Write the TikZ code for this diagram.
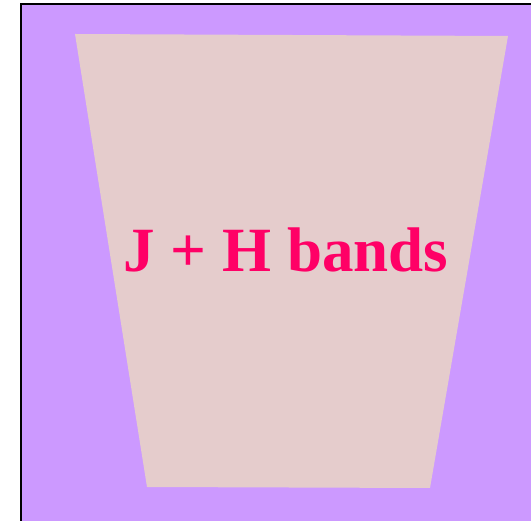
\documentclass[tikz,border=0pt]{standalone}
\usepackage{fontspec}
\setmainfont{Liberation Serif}
\definecolor{bgpurple}{HTML}{CC99FF}
\definecolor{trapfill}{HTML}{E5CCCC}
\definecolor{labelred}{HTML}{FF0066}
\begin{document}
\begin{tikzpicture}[x=1pt,y=-1pt,
  frame/.style={draw=black,line width=2pt},
  band/.style={fill=trapfill,draw=none},
  bandlabel/.style={text=labelred,font=\bfseries\fontsize{63}{63}\selectfont,inner sep=0pt}]
\useasboundingbox (0,0) rectangle (531,521);
\fill[white] (0,0) rectangle (531,521);
\fill[bgpurple] (21,4) rectangle (531,521);
\draw[frame] (21,521) -- (21,4) -- (531,4);
\path[band] (75,34) -- (508,36) -- (430,488) -- (147,487) -- cycle;
\node[bandlabel,anchor=base] (lbl) at (286,272) {J + H bands};
\end{tikzpicture}
\end{document}
